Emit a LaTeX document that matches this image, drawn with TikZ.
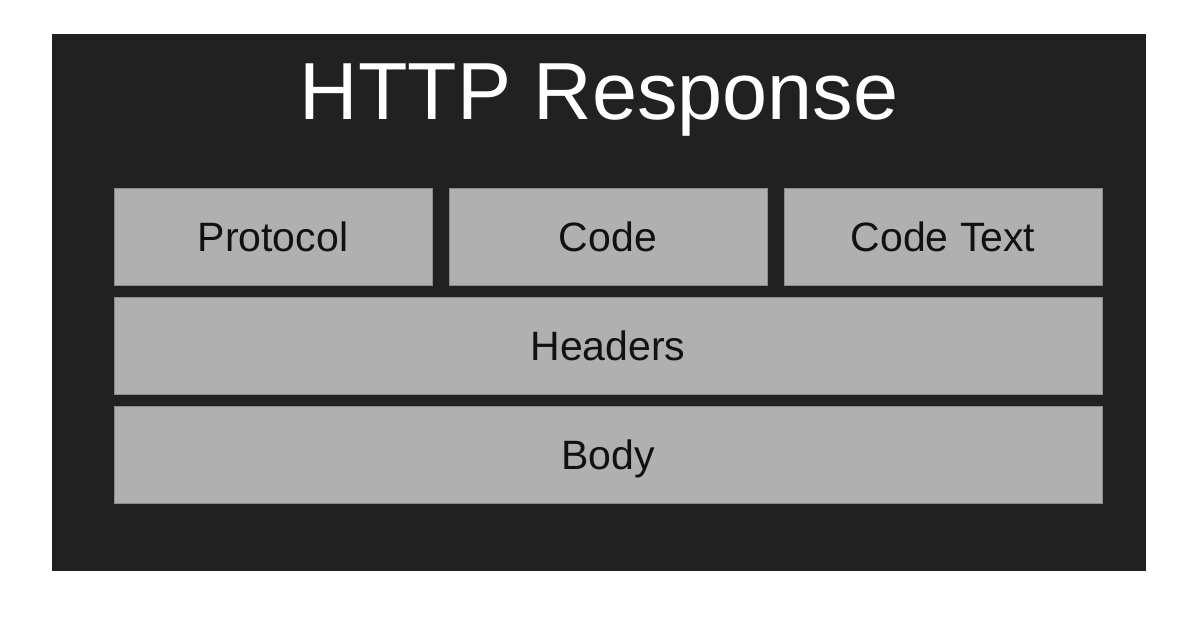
\documentclass[tikz,border=0pt]{standalone}
\usepackage{fontspec}
\setmainfont{Liberation Sans}
\definecolor{framebg}{RGB}{33,33,33}
\definecolor{fieldbg}{RGB}{176,176,176}
\definecolor{fieldline}{RGB}{140,140,140}
\definecolor{fieldtext}{RGB}{17,17,17}
\tikzset{
  field/.style={draw=fieldline, line width=1pt, fill=fieldbg, text=fieldtext,
    inner sep=0pt, minimum height=97pt, text height=29.5pt, text depth=0pt,
    font=\fontsize{41}{41}\selectfont}
}
\begin{document}
\begin{tikzpicture}[x=1pt,y=-1pt]
  \useasboundingbox[fill=white] (0,0) rectangle (1200,625);
  \node[fill=framebg, inner sep=0pt, minimum width=1094pt, minimum height=537pt] (frame) at (599,302.5) {};

  \node[text=white, inner sep=0pt, text height=58pt, text depth=0pt,
        font=\fontsize{81}{81}\selectfont] (title) at (599,90) {HTTP Response};

  % first line: three fields
  \foreach \x/\name/\txt in {273/proto/Protocol,608/code/Code,943/codetext/Code Text}
    \node[field, minimum width=318pt] (\name) at (\x,236.5) {\txt};

  \node[field, minimum width=988pt] (headers) at (608,345.5) {Headers};
  \node[field, minimum width=988pt] (body) at (608,454.5) {Body};
\end{tikzpicture}
\end{document}
